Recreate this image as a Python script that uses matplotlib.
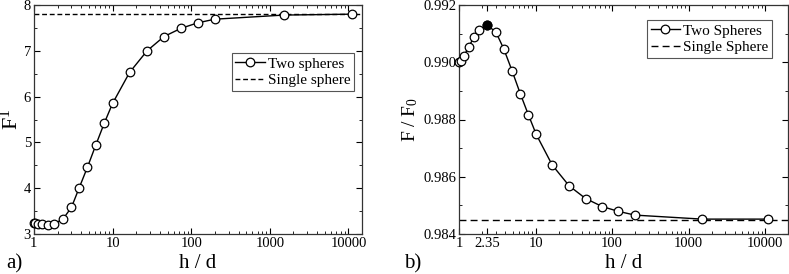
import matplotlib
matplotlib.use("Agg")
import matplotlib.pyplot as plt
from matplotlib.ticker import FixedLocator, MultipleLocator, LogLocator, NullFormatter, FixedFormatter

plt.rcParams['font.family'] = ['Liberation Serif', 'DejaVu Serif']
plt.rcParams['mathtext.fontset'] = 'custom'
plt.rcParams['mathtext.rm'] = 'Liberation Serif'
plt.rcParams['mathtext.it'] = 'Liberation Serif:italic'

# Panel a data
hd_a = [1.0, 1.03, 1.14, 1.28, 1.5, 1.82, 2.35, 3.0, 3.75, 4.8, 6.15, 7.85, 10,
        16.5, 27.5, 45, 74, 121, 199, 1500, 11000]
F1_two = [3.25, 3.24, 3.22, 3.21, 3.20, 3.22, 3.33, 3.58, 4.0, 4.46, 4.95, 5.42, 5.85,
          6.53, 7.0, 7.31, 7.49, 7.61, 7.69, 7.78, 7.80]
F1_single = 7.8

# Panel b data
hd_b = [1.0, 1.05, 1.17, 1.34, 1.58, 1.84, 2.35, 3.05, 3.84, 4.92, 6.32, 8.04, 10.2,
        16.5, 27.5, 45, 74, 121, 199, 1500, 11000]
FF0_two = [0.99001, 0.99005, 0.99023, 0.99055, 0.99088, 0.99113, 0.99130, 0.99104, 0.99047,
           0.98971, 0.98890, 0.98817, 0.98748, 0.98641, 0.98568, 0.98524, 0.98496,
           0.98479, 0.98466, 0.98452, 0.98452]
FF0_single = 0.98450
peak_index = 6

xt_a = [1, 10, 100, 1000, 10000]
xt_b = [1, 2.35, 10, 100, 1000, 10000]
xt_b_labels = ['1', '2.35', '10', '100', '1000', '10000']

W, H = 789, 274
fig = plt.figure(figsize=(W/100, H/100), dpi=100)
axA = fig.add_axes([33.9/W, 1-234/H, 328.4/W, 229/H])
axB = fig.add_axes([459/W, 1-234/H, 329.3/W, 229/H])

for ax in (axA, axB):
    ax.set_xscale('log')
    ax.tick_params(which='both', direction='in', top=True, right=True, labelsize=10.5, pad=2)
    ax.tick_params(which='major', length=4, width=0.8)
    ax.tick_params(which='minor', length=2, width=0.6)
    ax.xaxis.set_minor_locator(LogLocator(base=10, subs=range(2, 10), numticks=20))
    ax.xaxis.set_minor_formatter(NullFormatter())
    for s in ax.spines.values():
        s.set_linewidth(0.9)
        s.set_color('#333333')

leg_kw = dict(fontsize=11, frameon=True, fancybox=False, edgecolor='#555555', framealpha=1,
              handlelength=1.9, handletextpad=0.2, borderpad=0.25, labelspacing=0.2,
              borderaxespad=0.0)

# Panel a
axA.plot(hd_a, F1_two, '-o', color='black', lw=1.0, ms=6.2, mfc='white', mec='black',
         mew=0.9, label='Two spheres', clip_on=False, zorder=3)
axA.axhline(F1_single, color='black', lw=1.0, ls=(0, (3.5, 2)), label='Single sphere', zorder=2)
axA.set_xlim(1, 15000)
axA.set_ylim(3, 8)
axA.xaxis.set_major_locator(FixedLocator(xt_a))
axA.xaxis.set_major_formatter(FixedFormatter([str(v) for v in xt_a]))
axA.yaxis.set_major_locator(MultipleLocator(1))
axA.yaxis.set_minor_locator(MultipleLocator(0.5))
axA.set_xlabel('h / d', fontsize=15, labelpad=3)
axA.set_ylabel(r'$\mathregular{F^1}$', fontsize=16, labelpad=1)
legA = axA.legend(loc='upper right', bbox_to_anchor=((354-33.9)/328.4, (234-53)/229), **leg_kw)
legA.get_frame().set_linewidth(0.8)

# Panel b
axB.plot(hd_b, FF0_two, '-o', color='black', lw=1.0, ms=6.2, mfc='white', mec='black',
         mew=0.9, label='Two Spheres', clip_on=False, zorder=3)
axB.plot([hd_b[peak_index]], [FF0_two[peak_index]], 'o', color='black', ms=6.2, zorder=4,
         clip_on=False)
axB.axhline(FF0_single, color='black', lw=1.0, ls=(0, (5, 3)), label='Single Sphere', zorder=2)
axB.set_xlim(1, 20000)
axB.set_ylim(0.984, 0.992)
axB.xaxis.set_major_locator(FixedLocator(xt_b))
axB.xaxis.set_major_formatter(FixedFormatter(xt_b_labels))
axB.yaxis.set_major_locator(MultipleLocator(0.002))
axB.yaxis.set_minor_locator(MultipleLocator(0.001))
axB.yaxis.set_major_formatter(matplotlib.ticker.FormatStrFormatter('%.3f'))
axB.set_xlabel('h / d', fontsize=15, labelpad=3)
axB.set_ylabel(r'$\mathregular{F\ /\ F_0}$', fontsize=14, labelpad=2)
legB = axB.legend(loc='upper right', bbox_to_anchor=((772-459)/329.3, (234-20)/229), **leg_kw)
legB.get_frame().set_linewidth(0.8)

fig.text(6/W, 1-264/H, 'a)', fontsize=15, va='center', ha='left')
fig.text(404/W, 1-264/H, 'b)', fontsize=15, va='center', ha='left')

fig.savefig('out.png', dpi=100)
